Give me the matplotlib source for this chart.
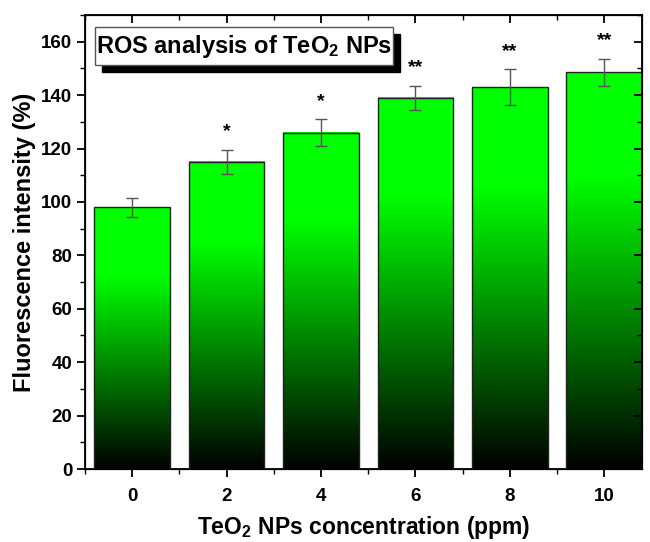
import numpy as np
import matplotlib
matplotlib.use("Agg")
import matplotlib.pyplot as plt
from matplotlib.patches import Rectangle
from matplotlib.colors import LinearSegmentedColormap
from matplotlib.ticker import MultipleLocator

plt.rcParams['font.family'] = ['Liberation Sans', 'DejaVu Sans']
plt.rcParams['font.weight'] = 'bold'
plt.rcParams['axes.labelweight'] = 'bold'
plt.rcParams['mathtext.fontset'] = 'custom'
plt.rcParams['mathtext.rm'] = 'Liberation Sans:bold'
plt.rcParams['mathtext.bf'] = 'Liberation Sans:bold'
plt.rcParams['mathtext.it'] = 'Liberation Sans:bold'

# data
concentrations = [0, 2, 4, 6, 8, 10]
intensity = [98.0, 115.0, 126.0, 139.0, 143.0, 148.5]
errors = [3.5, 4.6, 5.0, 4.5, 6.6, 5.2]
significance = ["", "*", "*", "**", "**", "**"]
yticks = [0, 20, 40, 60, 80, 100, 120, 140, 160]

W, H = 650, 542
fig = plt.figure(figsize=(W / 100, H / 100), dpi=100)
ax = fig.add_axes([85 / W, (H - 469) / H, (642 - 85) / W, (469 - 15) / H])

cmap = LinearSegmentedColormap.from_list(
    "g", [(0.0, "#000000"), (0.74, "#00ff00"), (1.0, "#00ff00")])
grad = np.linspace(0, 1, 512).reshape(-1, 1)
bw = 1.6
for x, h in zip(concentrations, intensity):
    ax.imshow(grad, cmap=cmap, origin="lower", aspect="auto",
              extent=[x - bw / 2, x + bw / 2, 0, h], zorder=2,
              interpolation="bilinear")
bars = ax.bar(concentrations, intensity, width=bw, facecolor="none",
              edgecolor="#222222", linewidth=1.0, zorder=3)
ax.errorbar(concentrations, intensity, yerr=errors, fmt="none",
            ecolor="#555555", elinewidth=1.0, capsize=4.5, capthick=1.0,
            zorder=4)
for x, h, e, s in zip(concentrations, intensity, errors, significance):
    if s:
        ax.text(x, h + e + 3.5, s, ha="center", va="bottom", fontsize=14,
                fontweight="bold", zorder=5)

ax.set_xlim(-1.0, 10.8)
ax.set_ylim(0, 170)
ax.set_xticks(concentrations)
ax.set_yticks(yticks)
ax.xaxis.set_minor_locator(MultipleLocator(1))
ax.yaxis.set_minor_locator(MultipleLocator(10))
ax.tick_params(which="major", direction="out", length=6, width=1.3,
               labelsize=13.5, pad=3)
ax.tick_params(which="minor", direction="out", length=3.5, width=1.0)
ax.tick_params(axis="x", which="major", pad=8)
for sp in ax.spines.values():
    sp.set_linewidth(1.3)

# inward ticks on top and right
axt = ax.twiny()
axt.set_xlim(ax.get_xlim())
axt.set_xticks(concentrations)
axt.xaxis.set_minor_locator(MultipleLocator(1))
axt.tick_params(which="major", direction="in", length=6, width=1.3,
                labeltop=False)
axt.tick_params(which="minor", direction="in", length=3.5, width=1.0)
axr = ax.twinx()
axr.set_ylim(ax.get_ylim())
axr.set_yticks(yticks)
axr.yaxis.set_minor_locator(MultipleLocator(10))
axr.tick_params(which="major", direction="in", length=6, width=1.3,
                labelright=False)
axr.tick_params(which="minor", direction="in", length=3.5, width=1.0)

ax.set_xlabel(r"TeO$_2$ NPs concentration (ppm)", fontsize=16.5,
              fontweight="bold", labelpad=6)
ax.set_ylabel("Fluorescence intensity (%)", fontsize=17,
              fontweight="bold", labelpad=4)

# title box with shadow
bx0, by0, bx1, by1 = 95, 27, 393, 65
off = 7
fig.patches.append(Rectangle(((bx0 + off) / W, (H - by1 - off) / H),
                             (bx1 - bx0) / W, (by1 - by0) / H,
                             transform=fig.transFigure, facecolor="black",
                             edgecolor="black", zorder=10))
fig.patches.append(Rectangle((bx0 / W, (H - by1) / H),
                             (bx1 - bx0) / W, (by1 - by0) / H,
                             transform=fig.transFigure, facecolor="white",
                             edgecolor="#555555", linewidth=1.0, zorder=11))
fig.text((bx0 + bx1) / 2 / W, (H - (by0 + by1) / 2) / H,
         r"ROS analysis of TeO$_2$ NPs", ha="center", va="center",
         fontsize=17, zorder=12)

fig.savefig("out.png", dpi=100)
